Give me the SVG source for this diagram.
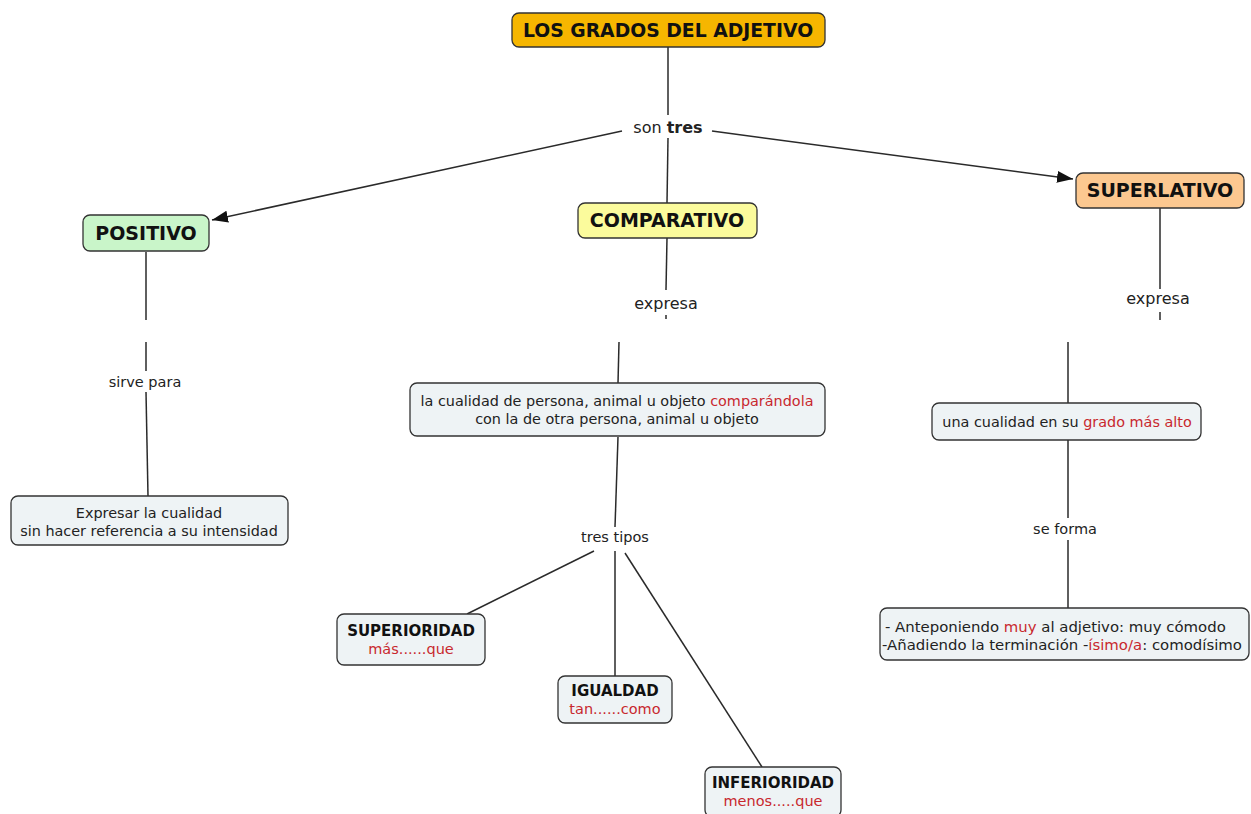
<svg xmlns="http://www.w3.org/2000/svg" width="1251" height="814" viewBox="0 0 1251 814">
<style>
text{font-family:"DejaVu Sans",Verdana,sans-serif;fill:#222}
.c{stroke:#2a2a2a;stroke-width:1.5;fill:none}
.n{stroke:#333;stroke-width:1.3}
.b{font-weight:bold;fill:#111}
.h{font-size:19px}
.lab{font-size:14.5px}
.big{font-size:16px}
.t{font-size:14.4px}
.t2{font-size:14.9px}
.sb{font-size:15px}
.r{fill:#c8282e}
.gray{fill:#eef3f5}
</style>
<defs>
<marker id="ah" viewBox="0 0 16 12" refX="16" refY="6" markerWidth="16" markerHeight="12" markerUnits="userSpaceOnUse" orient="auto"><path d="M0,0 L16,6 L0,12 z" fill="#111"/></marker>
</defs>
<rect width="1251" height="814" fill="#fff"/>
<g id="connectors">
<line class="c" x1="668" y1="47" x2="668" y2="115"/>
<line class="c" x1="668" y1="138" x2="667" y2="203"/>
<line class="c" x1="622" y1="131" x2="212" y2="220" marker-end="url(#ah)"/>
<line class="c" x1="712" y1="131" x2="1073" y2="179" marker-end="url(#ah)"/>
<line class="c" x1="146" y1="252" x2="146" y2="320"/>
<line class="c" x1="146" y1="342" x2="146" y2="371"/>
<line class="c" x1="146" y1="392" x2="148" y2="496"/>
<line class="c" x1="667" y1="238" x2="666" y2="290"/>
<line class="c" x1="666" y1="315" x2="666" y2="319"/>
<line class="c" x1="619" y1="342" x2="618" y2="383"/>
<line class="c" x1="618" y1="437" x2="615" y2="527"/>
<line class="c" x1="594" y1="551" x2="467" y2="614"/>
<line class="c" x1="615" y1="551" x2="615" y2="676"/>
<line class="c" x1="625" y1="553" x2="762" y2="767"/>
<line class="c" x1="1160" y1="208" x2="1160" y2="289"/>
<line class="c" x1="1160" y1="312" x2="1160" y2="320"/>
<line class="c" x1="1068" y1="342" x2="1068" y2="403"/>
<line class="c" x1="1068" y1="440" x2="1068" y2="518"/>
<line class="c" x1="1068" y1="540" x2="1068" y2="608"/>
</g>
<g id="title">
<rect class="n" x="512" y="13" width="313" height="34" rx="7" fill="#f6b600"/>
<text class="b" x="668" y="37" font-size="18.8" text-anchor="middle">LOS GRADOS DEL ADJETIVO</text>
</g>
<g id="son-tres">
<text class="big" x="668" y="133" text-anchor="middle">son <tspan font-weight="bold">tres</tspan></text>
</g>
<g id="positivo">
<rect class="n" x="83" y="215" width="126" height="36" rx="7" fill="#c9f5c9"/>
<text class="b h" x="146" y="240" text-anchor="middle">POSITIVO</text>
</g>
<g id="comparativo">
<rect class="n" x="578" y="203" width="179" height="35" rx="7" fill="#fbfb9c"/>
<text class="b h" x="667" y="227" text-anchor="middle">COMPARATIVO</text>
</g>
<g id="superlativo">
<rect class="n" x="1076" y="173" width="168" height="35" rx="7" fill="#fcc890"/>
<text class="b h" x="1160" y="197" text-anchor="middle">SUPERLATIVO</text>
</g>
<g id="sirve-para"><text class="lab" x="145" y="387" text-anchor="middle">sirve para</text></g>
<g id="expresa-1"><text class="big" x="666" y="309" text-anchor="middle">expresa</text></g>
<g id="expresa-2"><text class="big" x="1158" y="304" text-anchor="middle">expresa</text></g>
<g id="tres-tipos"><text class="lab" x="615" y="542" text-anchor="middle">tres tipos</text></g>
<g id="se-forma"><text class="lab" x="1065" y="534" text-anchor="middle">se forma</text></g>
<g id="expresar">
<rect class="n gray" x="11" y="496" width="277" height="49" rx="7"/>
<text class="t" x="149" y="518" text-anchor="middle">Expresar la cualidad</text>
<text class="t" x="149" y="536" text-anchor="middle">sin hacer referencia a su intensidad</text>
</g>
<g id="cualidad-comp">
<rect class="n gray" x="410" y="383" width="415" height="53" rx="7"/>
<text class="t" x="617" y="406" text-anchor="middle">la cualidad de persona, animal u objeto <tspan class="r">comparándola</tspan></text>
<text class="t" x="617" y="424" text-anchor="middle">con la de otra persona, animal u objeto</text>
</g>
<g id="superioridad">
<rect class="n gray" x="337" y="614" width="148" height="51" rx="7"/>
<text class="b sb" x="411" y="636" text-anchor="middle">SUPERIORIDAD</text>
<text class="lab r" x="411" y="654" text-anchor="middle">más......que</text>
</g>
<g id="igualdad">
<rect class="n gray" x="558" y="676" width="114" height="47" rx="7"/>
<text class="b sb" x="615" y="696" text-anchor="middle">IGUALDAD</text>
<text class="lab r" x="615" y="714" text-anchor="middle">tan......como</text>
</g>
<g id="inferioridad">
<rect class="n gray" x="705" y="767" width="136" height="50" rx="7"/>
<text class="b sb" x="773" y="788" text-anchor="middle">INFERIORIDAD</text>
<text class="lab r" x="773" y="806" text-anchor="middle">menos.....que</text>
</g>
<g id="grado-alto">
<rect class="n gray" x="932" y="403" width="269" height="37" rx="7"/>
<text class="t" x="1067" y="427" text-anchor="middle">una cualidad en su <tspan class="r">grado más alto</tspan></text>
</g>
<g id="se-forma-box">
<rect class="n gray" x="880" y="608" width="369" height="52" rx="7"/>
<text class="t2" x="885" y="632">- Anteponiendo <tspan class="r">muy</tspan> al adjetivo: muy cómodo</text>
<text class="t2" x="882" y="650">-Añadiendo la terminación -<tspan class="r">ísimo/a</tspan>: comodísimo</text>
</g>
</svg>
